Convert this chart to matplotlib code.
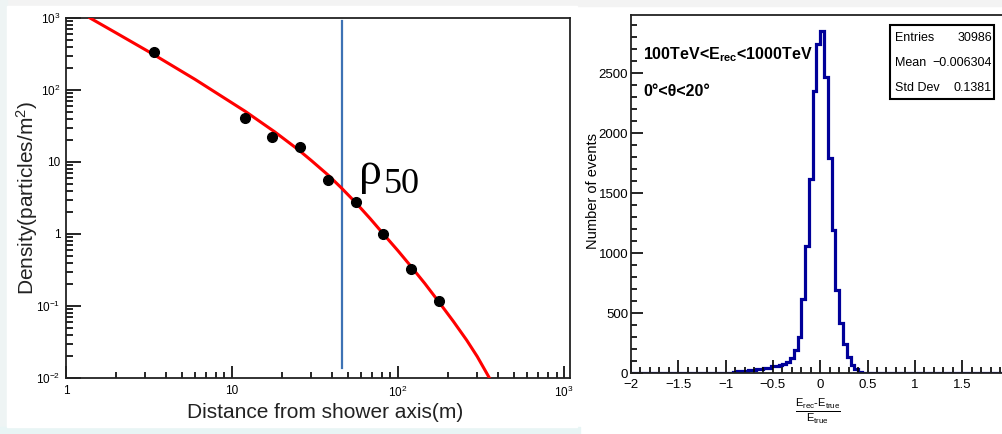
import numpy as np
import matplotlib.pyplot as plt
from matplotlib.patches import Rectangle
from matplotlib.ticker import FixedLocator, FixedFormatter, LogLocator, MultipleLocator, NullFormatter

narrow = ['Liberation Sans Narrow', 'Liberation Sans', 'DejaVu Sans']
plt.rcParams['font.family'] = narrow
plt.rcParams['mathtext.fontset'] = 'custom'
plt.rcParams['mathtext.rm'] = 'Liberation Sans'
plt.rcParams['mathtext.it'] = 'Liberation Sans:italic'
plt.rcParams['mathtext.bf'] = 'Liberation Sans:bold'

# ---- left: lateral density profile
dist = [3.4, 12.0, 17.5, 25.7, 37.9, 55.8, 81.6, 119, 176]
density = [337, 40.8, 22.2, 16.2, 5.6, 2.81, 0.99, 0.33, 0.117]
fit_r = [1.395, 2.0, 3.34, 6.0, 12.0, 18.0, 25.0, 30.0, 38.0, 45.4, 55.8, 68.0,
         81.6, 100, 119, 145, 176, 215, 259, 300, 355]
fit_rho = [1000, 622, 315, 140, 50.6, 26.4, 14.9, 10.5, 6.55, 4.4, 2.7, 1.63,
           1.0, 0.583, 0.36, 0.205, 0.114, 0.0614, 0.0335, 0.0198, 0.0100]
rho50_x = 45.8
rho50_span = [0.0138, 908]
x_major = [1, 10, 100, 1000]
x_labels = ['1', '10', '$10^{2}$', '$10^{3}$']
y_major = [0.01, 0.1, 1, 10, 100, 1000]
y_labels = ['$10^{-2}$', '$10^{-1}$', '1', '10', '$10^{2}$', '$10^{3}$']

# ---- right: energy resolution histogram
edges = np.linspace(-2, 2, 101)
counts = ([0] * 26 +
          [2, 10, 14, 17, 19, 24, 28, 30, 32, 38, 42, 55, 60, 63, 75, 92, 125, 190,
           300, 620, 1060, 1615, 2355, 2745, 2850, 2470, 1790, 1190, 690, 420,
           240, 135, 65, 30, 12, 4] +
          [0] * 38)
hist_xticks = [-2, -1.5, -1, -0.5, 0, 0.5, 1, 1.5, 2]
hist_xlabels = ['\u22122', '\u22121.5', '\u22121', '\u22120.5', '0', '0.5', '1', '1.5', '']
stats = [('Entries', '30986'), ('Mean', '\u22120.006304'), ('Std Dev', '0.1381')]

W, H = 1002, 434
fig = plt.figure(figsize=(W / 100, H / 100), dpi=100, facecolor='white')


def fx(px):
    return px / W


def fy(py):
    return 1 - py / H


# page background around the left card
fig.patches.append(Rectangle((0, fy(6)), 1, 6 / H, transform=fig.transFigure,
                             color='#f3f3f3', zorder=-10))
fig.patches.append(Rectangle((0, 0), fx(7), 1, transform=fig.transFigure,
                             color='#eef4f4', zorder=-10))
fig.patches.append(Rectangle((0, 0), fx(580), 7 / H, transform=fig.transFigure,
                             color='#e8f5f5', zorder=-10))
fig.patches.append(Rectangle((fx(7), fy(427)), fx(570), 421 / H, transform=fig.transFigure,
                             color='white', zorder=-9))

ax1 = fig.add_axes([fx(66), fy(378), fx(570 - 66), (378 - 18) / H])
ax1.set_xscale('log')
ax1.set_yscale('log')
ax1.set_xlim(1, 1085)
ax1.set_ylim(0.01, 1000)
ax1.plot(fit_r, fit_rho, color='#ff0000', lw=2.2, zorder=3)
ax1.plot(dist, density, 'o', color='black', ms=7, zorder=4)
ax1.plot([rho50_x, rho50_x], rho50_span, color='#3d72b4', lw=1.6, zorder=2)

ax1.xaxis.set_major_locator(FixedLocator(x_major))
ax1.xaxis.set_major_formatter(FixedFormatter(x_labels))
ax1.xaxis.set_minor_locator(LogLocator(base=10, subs=np.arange(2, 10)))
ax1.xaxis.set_minor_formatter(NullFormatter())
ax1.yaxis.set_major_locator(FixedLocator(y_major))
ax1.yaxis.set_major_formatter(FixedFormatter(y_labels))
ax1.yaxis.set_minor_locator(LogLocator(base=10, subs=np.arange(2, 10)))
ax1.yaxis.set_minor_formatter(NullFormatter())
ax1.tick_params(which='both', direction='in', top=False, right=False, width=1.2,
                labelsize=8.5, colors='black')
ax1.tick_params(axis='y', which='major', length=10.5, pad=4)
ax1.tick_params(axis='y', which='minor', length=4.8)
ax1.tick_params(axis='x', which='major', length=9, pad=5)
ax1.tick_params(axis='x', which='minor', length=4.3)
for s in ax1.spines.values():
    s.set_linewidth(1.3)
    s.set_color('#222222')

fig.text(fx(325), fy(412), 'Distance from shower axis(m)', ha='center', va='center',
         fontsize=15, color='#222222')
fig.text(fx(27), fy(198), 'Density(particles/m$^{2}$)', ha='center', va='center',
         rotation=90, fontsize=15, color='#222222')
fig.text(fx(359), fy(184), '\u03c1', fontsize=33, family=['Liberation Serif', 'DejaVu Serif'],
         ha='left', va='baseline')
fig.text(fx(384), fy(193), '50', fontsize=26, family=['Liberation Serif', 'DejaVu Serif'],
         ha='left', va='baseline')

ax2 = fig.add_axes([fx(631), fy(373), fx(1009.5 - 631), (373 - 15) / H])
ax2.stairs(counts, edges, color='#000099', lw=2.3, baseline=0)
ax2.set_xlim(-2, 2)
ax2.set_ylim(0, 2985)
ax2.xaxis.set_major_locator(FixedLocator(hist_xticks))
ax2.xaxis.set_major_formatter(FixedFormatter(hist_xlabels))
ax2.xaxis.set_minor_locator(MultipleLocator(0.1))
ax2.yaxis.set_major_locator(MultipleLocator(500))
ax2.yaxis.set_minor_locator(MultipleLocator(100))
ax2.tick_params(which='both', direction='in', top=False, right=False, width=1.2,
                labelsize=9.5, colors='black')
ax2.tick_params(axis='x', which='major', length=9.5, pad=4)
ax2.tick_params(axis='x', which='minor', length=4.5)
ax2.tick_params(axis='y', which='major', length=8.5, pad=2)
ax2.tick_params(axis='y', which='minor', length=4.3)
for s in ax2.spines.values():
    s.set_linewidth(1.3)
    s.set_color('#222222')

fig.text(fx(593), fy(191), 'Number of events', rotation=90, ha='center', va='center',
         fontsize=10.5)
fig.text(fx(818), fy(411), r'$\frac{\mathrm{E_{rec}\text{-}E_{true}}}{\mathrm{E_{true}}}$',
         ha='center', va='center', fontsize=11.5)
fig.text(fx(643), fy(59), r'100TeV<E$_{\mathbf{rec}}$<1000TeV', fontsize=11.5,
         fontweight='bold', ha='left', va='baseline')
fig.text(fx(643), fy(96), '0\u00b0<\u03b8<20\u00b0', fontsize=11.5, fontweight='bold',
         ha='left', va='baseline')

fig.patches.append(Rectangle((fx(890), fy(99)), fx(104), 74 / H, transform=fig.transFigure,
                             facecolor='white', edgecolor='black', lw=1.5, zorder=5))
for k, (name, val) in enumerate(stats):
    yy = fy(38 + 25 * k)
    fig.text(fx(895), yy, name, fontsize=9, ha='left', va='center', zorder=6)
    fig.text(fx(992), yy, val, fontsize=9, ha='right', va='center', zorder=6)

fig.savefig('out.png', dpi=100, facecolor='white')
